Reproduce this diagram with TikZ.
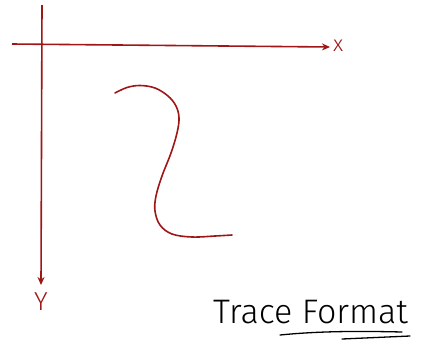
\documentclass[tikz,border=0pt]{standalone}
\usepackage{fontspec}
\setmainfont{Fira Sans Light}
\usetikzlibrary{arrows.meta}
\definecolor{pen}{RGB}{158,22,22}
\tikzset{
  axis/.style={draw=pen, line width=1.6pt, -{Stealth[length=8pt,width=7pt]}},
  trace/.style={draw=pen, line width=1.6pt, line cap=round},
  axlabel/.style={text=pen, inner sep=0pt},
  title/.style={text=black, inner sep=0pt, font=\fontsize{34}{36}\selectfont},
  uline/.style={draw=black, line width=1.3pt, line cap=round}
}
\begin{document}
\begin{tikzpicture}[x=1pt,y=-1pt]
\useasboundingbox (0,0) rectangle (421,341);
\coordinate (xs) at (12,44);
\coordinate (xe) at (330,47);
\coordinate (ys) at (42,5);
\coordinate (ye) at (41,285);
\draw[axis] (xs) -- (xe);
\draw[axis] (ys) -- (ye);
\node[axlabel, font=\fontsize{22}{22}\selectfont, anchor=west] (xl) at (333,46) {x};
\node[axlabel, font=\fontsize{26}{26}\selectfont] (yl) at (41,302) {Y};
\draw[trace] plot[smooth, tension=0.6] coordinates {(115,93) (127,87.5) (140,85.5) (155,88) (168,96) (176,106) (179,118) (177,133) (171,153) (162,176) (156,196) (155,211) (160,225) (172,234) (192,237) (215,236) (232,235)};
\node[title, anchor=base west] (t) at (213,323) {Trace Format};
\coordinate (u0) at (280,335);
\coordinate (u1) at (402,332);
\coordinate (u2) at (342,339);
\coordinate (u3) at (410,336);
\draw[uline] (u0) .. controls (320,331) and (360,331) .. (u1);
\draw[uline] (u2) -- (u3);
\end{tikzpicture}
\end{document}
